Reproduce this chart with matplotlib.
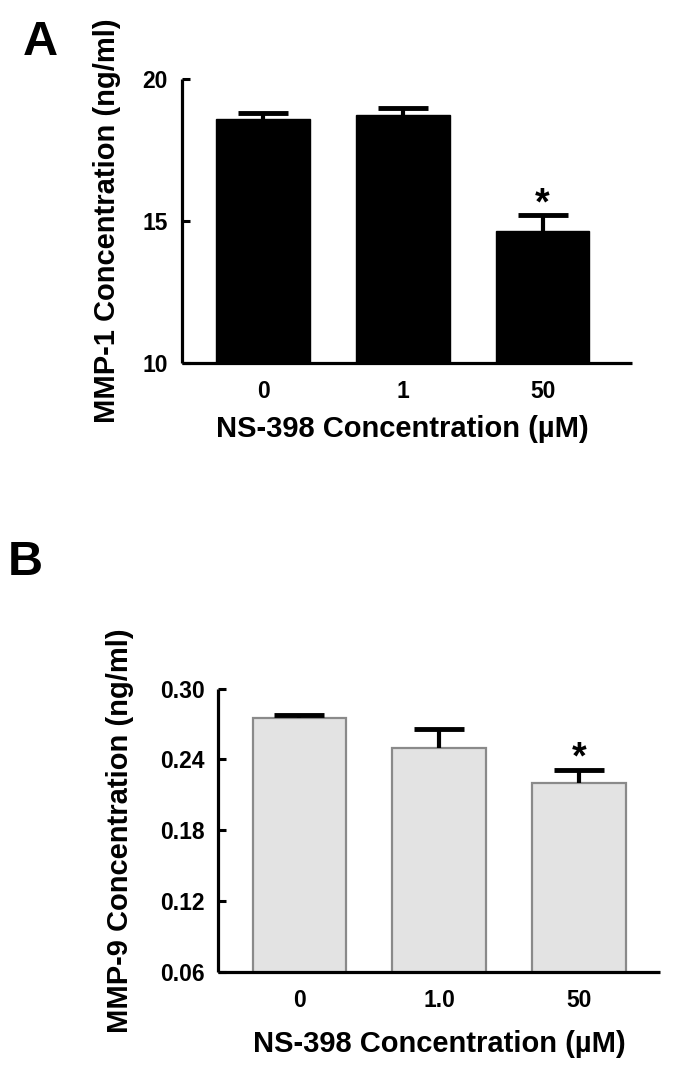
import numpy as np
import matplotlib
matplotlib.use('Agg')
import matplotlib.pyplot as plt

plt.rcParams['font.family'] = ['Liberation Sans', 'DejaVu Sans']
plt.rcParams['font.weight'] = 'bold'

# 数据
doses_a = ['0', '1', '50']
mmp1_mean = [18.59, 18.74, 14.67]
mmp1_err = [0.21, 0.26, 0.53]
mmp1_sig = [False, False, True]

doses_b = ['0', '1.0', '50']
mmp9_mean = [0.2747, 0.250, 0.2197]
mmp9_err = [0.0025, 0.0154, 0.0113]
mmp9_sig = [False, False, True]

yticks_a = [10, 15, 20]
yticks_b = [0.06, 0.12, 0.18, 0.24, 0.30]
ytick_labels_b = ['0.06', '0.12', '0.18', '0.24', '0.30']

xlabel = 'NS-398 Concentration (µM)'
ylabel_a = 'MMP-1 Concentration (ng/ml)'
ylabel_b = 'MMP-9 Concentration (ng/ml)'

W, H = 685, 1073
fig = plt.figure(figsize=(W / 100, H / 100), dpi=100)


def px_axes(left, right, top, bottom):
    return fig.add_axes([left / W, 1 - bottom / H, (right - left) / W, (bottom - top) / H])


def style_axes(ax):
    for s in ['top', 'right']:
        ax.spines[s].set_visible(False)
    for s in ['left', 'bottom']:
        ax.spines[s].set_linewidth(2.3)
        ax.spines[s].set_capstyle('butt')
    ax.tick_params(axis='y', direction='in', length=6, width=2.2, labelsize=16.5, pad=10)
    ax.tick_params(axis='x', length=0, labelsize=16.5, pad=12)


def draw_panel(ax, labels, means, errs, sig, face, edge, ew, star_off):
    x = np.arange(len(labels))
    ax.bar(x, means, width=0.67, color=face, edgecolor=edge, linewidth=ew, zorder=2)
    # 只画上方误差棒
    _, caps, _ = ax.errorbar(x, means, yerr=[np.zeros(len(errs)), errs], fmt='none',
                             ecolor='black', elinewidth=3, capsize=18, capthick=3.5, zorder=3)
    for c in caps:
        if np.allclose(c.get_ydata(), means):
            c.set_visible(False)
    for xi, m, e, s in zip(x, means, errs, sig):
        if s:
            ax.annotate('*', (xi, m + e), xytext=(0, star_off), textcoords='offset points',
                        ha='center', va='center', fontsize=27, fontweight='bold')
    ax.set_xticks(x)
    ax.set_xticklabels(labels)


# A: MMP-1
ax1 = px_axes(182, 632, 79.3, 363)
draw_panel(ax1, doses_a, mmp1_mean, mmp1_err, mmp1_sig, 'black', 'black', 1, 8)
ax1.set_xlim(-0.58, 2.64)
ax1.set_ylim(10, 20)
ax1.set_yticks(yticks_a)
style_axes(ax1)
ax1.set_ylabel(ylabel_a, fontsize=21, fontweight='bold')
ax1.yaxis.set_label_coords(-0.135, 0.5)
ax1.set_xlabel(xlabel, fontsize=21, fontweight='bold')
ax1.xaxis.set_label_coords(0.49, -0.185)

# B: MMP-9
ax2 = px_axes(218.3, 660, 688.5, 972.3)
draw_panel(ax2, doses_b, mmp9_mean, mmp9_err, mmp9_sig, '#e3e3e3', '#8a8a8a', 1.6, 8)
ax2.set_xlim(-0.58, 2.58)
ax2.set_ylim(0.06, 0.30)
ax2.set_yticks(yticks_b)
ax2.set_yticklabels(ytick_labels_b)
style_axes(ax2)
ax2.set_ylabel(ylabel_b, fontsize=21, fontweight='bold')
ax2.yaxis.set_label_coords(-0.19, 0.5)
ax2.set_xlabel(xlabel, fontsize=21, fontweight='bold')
ax2.xaxis.set_label_coords(0.5, -0.205)

fig.text(23 / W, 1 - 55 / H, 'A', fontsize=35, fontweight='bold', va='baseline', ha='left')
fig.text(8 / W, 1 - 575 / H, 'B', fontsize=35, fontweight='bold', va='baseline', ha='left')

fig.savefig('out.png', dpi=100)
